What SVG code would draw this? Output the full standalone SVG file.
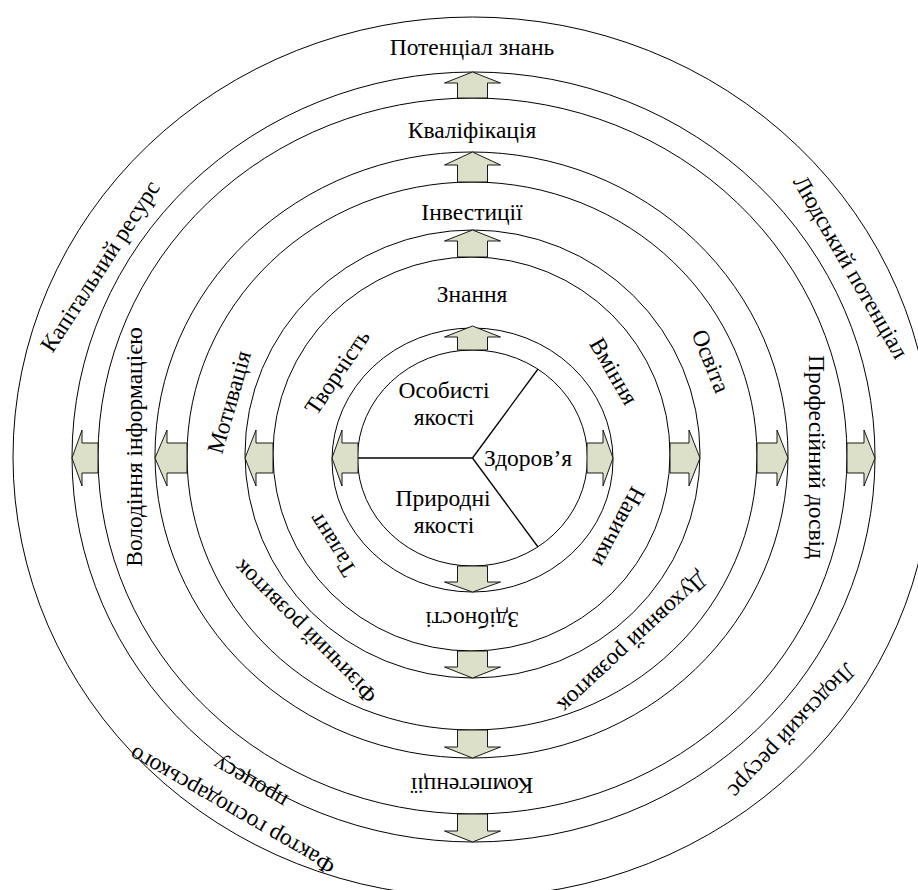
<svg xmlns="http://www.w3.org/2000/svg" width="918" height="890" viewBox="0 0 918 890">
<style>
.ring{fill:none;stroke:#000;stroke-width:1}
.div{stroke:#000;stroke-width:1.3}
.arr{fill:#dde0c9;stroke:#000;stroke-width:0.9;stroke-linejoin:miter}
.t{font-family:"Liberation Serif","Times New Roman",serif;font-size:23.5px;fill:#000;text-anchor:middle}
</style>
<rect width="918" height="890" fill="#fff"/>
<g id="rings">
<ellipse id="ring9" class="ring" cx="472.5" cy="457" rx="459.5" ry="440"/>
<ellipse id="ring8" class="ring" cx="473.5" cy="457" rx="401.5" ry="385"/>
<ellipse id="ring7" class="ring" cx="472.5" cy="456" rx="374.5" ry="358"/>
<ellipse id="ring6" class="ring" cx="471.5" cy="455" rx="316.5" ry="303"/>
<ellipse id="ring5" class="ring" cx="472" cy="456" rx="285" ry="274"/>
<ellipse id="ring4" class="ring" cx="472.5" cy="454" rx="227.5" ry="224"/>
<ellipse id="ring3" class="ring" cx="471.5" cy="454" rx="198.5" ry="197"/>
<ellipse id="ring2" class="ring" cx="472.5" cy="460" rx="140.5" ry="132"/>
<ellipse id="ring1" class="ring" cx="472.5" cy="458" rx="115" ry="108"/>
</g>
<g id="core">
<line class="div" x1="472.5" y1="458" x2="357.5" y2="458"/>
<line class="div" x1="472.5" y1="458" x2="538" y2="369"/>
<line class="div" x1="472.5" y1="458" x2="538" y2="547"/>
</g>
<g id="connectors">
<polygon class="arr" points="472.5,72 500.5,83 487.5,83 487.5,98 457.5,98 457.5,83 444.5,83"/>
<polygon class="arr" points="472.5,152 500.5,165 487.5,165 487.5,182 457.5,182 457.5,165 444.5,165"/>
<polygon class="arr" points="472.5,230 500.5,241 487.5,241 487.5,257 457.5,257 457.5,241 444.5,241"/>
<polygon class="arr" points="472.5,326 500.5,337 487.5,337 487.5,350 457.5,350 457.5,337 444.5,337"/>
<polygon class="arr" points="457.5,566 487.5,566 487.5,582 500.5,582 472.5,592 444.5,582 457.5,582"/>
<polygon class="arr" points="457.5,651 487.5,651 487.5,667 500.5,667 472.5,678 444.5,667 457.5,667"/>
<polygon class="arr" points="457.5,730 487.5,730 487.5,747 500.5,747 472.5,758 444.5,747 457.5,747"/>
<polygon class="arr" points="457.5,814 487.5,814 487.5,831 500.5,831 472.5,842 444.5,831 457.5,831"/>
<polygon class="arr" points="332,458 342,430 342,443 358,443 358,473 342,473 342,486"/>
<polygon class="arr" points="245,458 256,430 256,443 273,443 273,473 256,473 256,486"/>
<polygon class="arr" points="155,458 167,430 167,443 187,443 187,473 167,473 167,486"/>
<polygon class="arr" points="72,458 82,430 82,443 98,443 98,473 82,473 82,486"/>
<polygon class="arr" points="613,458 603,430 603,443 587,443 587,473 603,473 603,486"/>
<polygon class="arr" points="700,458 689,430 689,443 670,443 670,473 689,473 689,486"/>
<polygon class="arr" points="788,458 777,430 777,443 757,443 757,473 777,473 777,486"/>
<polygon class="arr" points="875,458 864,430 864,443 847,443 847,473 864,473 864,486"/>
</g>
<g id="labels">
<g id="n-potencial"><text class="t" x="472" y="55">Потенціал знань</text></g>
<g id="n-kvalifikacia"><text class="t" x="472" y="138">Кваліфікація</text></g>
<g id="n-investycii"><text class="t" x="472" y="220">Інвестиції</text></g>
<g id="n-znannia"><text class="t" x="472" y="302">Знання</text></g>
<g id="n-osobysti"><text class="t" x="444" y="398">Особисті</text><text class="t" x="444" y="425">якості</text></g>
<g id="n-zdorovia"><text class="t" x="528" y="466">Здоров’я</text></g>
<g id="n-pryrodni"><text class="t" x="443" y="506">Природні</text><text class="t" x="444" y="533">якості</text></g>
<g id="n-zdibnosti"><text class="t" transform="translate(472 620) rotate(180)" y="8">Здібності</text></g>
<g id="n-kompetencii"><text class="t" transform="translate(472 786) rotate(180)" y="8">Компетенції</text></g>
<g id="n-kapital"><text class="t" transform="translate(100 266) rotate(-57)" y="8">Капітальний ресурс</text></g>
<g id="n-volodinnia"><text class="t" transform="translate(134 447) rotate(-90)" y="8">Володіння інформацією</text></g>
<g id="n-motyvacia"><text class="t" transform="translate(229 402) rotate(-74)" y="8">Мотивація</text></g>
<g id="n-tvorchist"><text class="t" transform="translate(337 372) rotate(-56)" y="8">Творчість</text></g>
<g id="n-talant"><text class="t" transform="translate(332 545) rotate(-122)" y="8">Талант</text></g>
<g id="n-fizychnyi"><text class="t" transform="translate(305 632) rotate(-135)" y="8">Фізичний розвиток</text></g>
<g id="n-faktor"><text class="t" transform="translate(232 811) rotate(-150)" y="8">Фактор господарського</text><text class="t" transform="translate(250 783) rotate(-150)" y="8">процесу</text></g>
<g id="n-vminnia"><text class="t" transform="translate(614 371) rotate(60)" y="8">Вміння</text></g>
<g id="n-osvita"><text class="t" transform="translate(711 361) rotate(68)" y="8">Освіта</text></g>
<g id="n-profesiinyi"><text class="t" transform="translate(817 457) rotate(90)" y="8">Професійний досвід</text></g>
<g id="n-liudskyi-potencial"><text class="t" transform="translate(851 267) rotate(60)" y="8">Людський потенціал</text></g>
<g id="n-navychky"><text class="t" transform="translate(619 527) rotate(118)" y="8">Навички</text></g>
<g id="n-dukhovnyi"><text class="t" transform="translate(633 643) rotate(137)" y="8">Духовний розвиток</text></g>
<g id="n-liudskyi-resurs"><text class="t" transform="translate(792 731) rotate(133)" y="8">Людський ресурс</text></g>
</g>
</svg>
